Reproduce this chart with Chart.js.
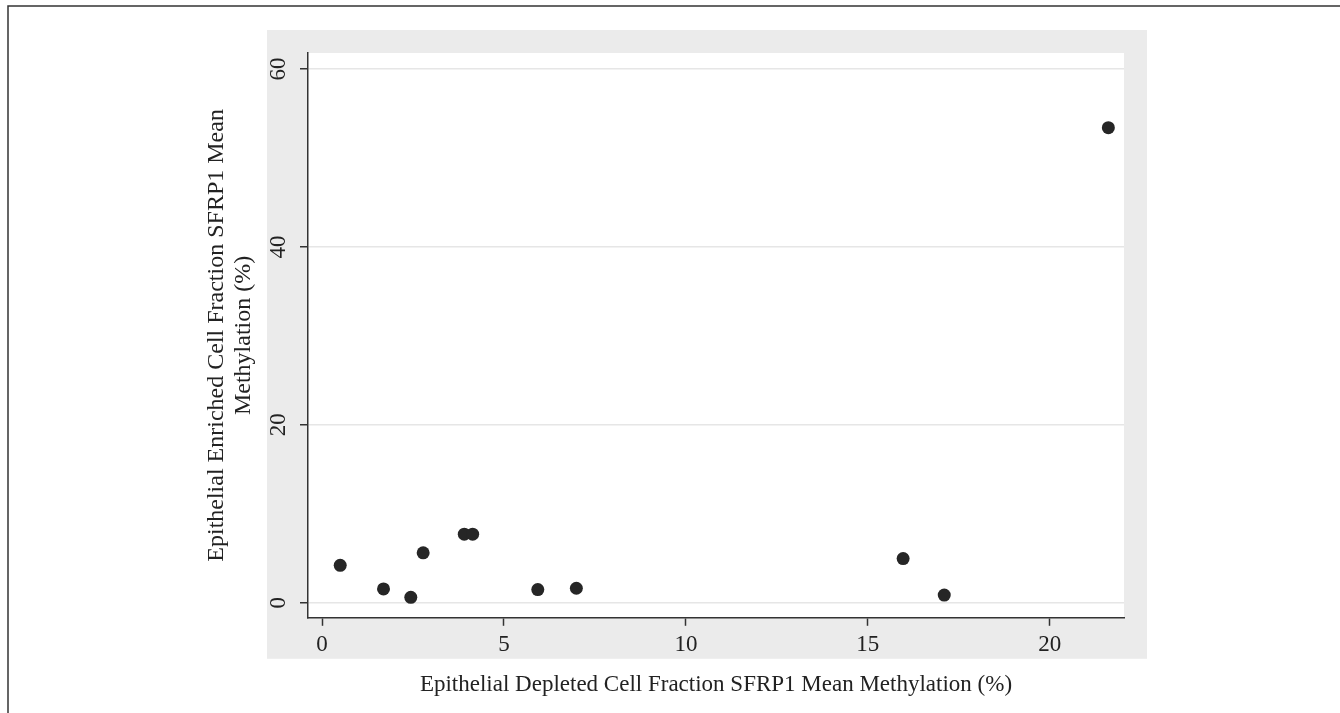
<!DOCTYPE html>
<html>
<head>
<meta charset="utf-8">
<script src="https://cdn.jsdelivr.net/npm/chart.js@4.4.1/dist/chart.umd.min.js"></script>
<style>
  html, body { margin: 0; padding: 0; background: #fff; }
  #wrap { width: 1340px; height: 713px; }
</style>
</head>
<body>
<div id="wrap"><canvas id="scatterChart" width="1340" height="713"></canvas></div>
<script>
// data
var depletedVals = [0.50, 1.69, 2.44, 2.78, 3.91, 4.14, 5.93, 6.99, 15.97, 17.10, 21.61];
var enrichedVals = [4.2, 1.55, 0.6, 5.6, 7.7, 7.7, 1.47, 1.62, 4.96, 0.86, 53.4];
var xTicks = [0, 5, 10, 15, 20];
var yTicks = [0, 20, 40, 60];
var xTitle = 'Epithelial Depleted Cell Fraction SFRP1 Mean Methylation (%)';
var yTitle = ['Epithelial Enriched Cell Fraction SFRP1 Mean', 'Methylation (%)'];

var serif = '"Liberation Serif", "Times New Roman", serif';
var ink = '#222222';

var points = depletedVals.map(function(x, i){ return {x: x, y: enrichedVals[i]}; });

// grey panel + outer frame behind the plot
var backdrop = {
    id: 'backdrop',
    beforeDraw: function(chart){
        var ctx = chart.ctx, a = chart.chartArea;
        ctx.save();
        ctx.fillStyle = '#ffffff';
        ctx.fillRect(0, 0, chart.width, chart.height);
        ctx.fillStyle = '#ebebeb';
        ctx.fillRect(a.left - 41, a.top - 23, (a.right + 23) - (a.left - 41), (a.bottom + 41) - (a.top - 23));
        ctx.fillStyle = '#ffffff';
        ctx.fillRect(a.left, a.top, a.right - a.left, a.bottom - a.top);
        ctx.strokeStyle = '#333333';
        ctx.lineWidth = 1.5;
        ctx.beginPath();
        ctx.moveTo(8, chart.height);
        ctx.lineTo(8, 6);
        ctx.lineTo(chart.width, 6);
        ctx.stroke();
        ctx.restore();
    }
};

// y tick labels are rotated in the original, chart.js can't rotate vertical axis labels
var yTickLabels = {
    id: 'yTickLabels',
    afterDraw: function(chart){
        var ctx = chart.ctx, ys = chart.scales.y;
        ctx.save();
        ctx.fillStyle = ink;
        ctx.font = '23px ' + serif;
        ctx.textAlign = 'center';
        ctx.textBaseline = 'middle';
        yTicks.forEach(function(v){
            var py = ys.getPixelForValue(v);
            ctx.save();
            ctx.translate(ys.right - 29, py);
            ctx.rotate(-Math.PI / 2);
            ctx.fillText(String(v), 0, 0);
            ctx.restore();
        });
        ctx.restore();
    }
};

var ctx = document.getElementById('scatterChart').getContext('2d');
var scatterChart = new Chart(ctx, {
    type: 'scatter',
    data: {
        datasets: [{
            label: 'SFRP1',
            data: points,
            backgroundColor: '#262626',
            borderColor: '#262626',
            borderWidth: 0,
            pointRadius: 6.5,
            pointHoverRadius: 6.5
        }]
    },
    options: {
        responsive: false,
        animation: false,
        events: [],
        layout: { padding: { left: 200, right: 216, top: 53, bottom: 0 } },
        plugins: { legend: { display: false }, tooltip: { enabled: false } },
        scales: {
            x: {
                type: 'linear',
                min: -0.385,
                max: 22.04,
                afterBuildTicks: function(s){ s.ticks = xTicks.map(function(v){ return {value: v}; }); },
                grid: { display: true, drawOnChartArea: false, drawTicks: true, tickLength: 8, tickColor: '#333333', tickWidth: 1.5 },
                border: { display: true, color: '#333333', width: 1.5 },
                ticks: { color: ink, padding: 5, maxRotation: 0, font: { family: serif, size: 23, lineHeight: 1.2 } },
                title: { display: true, text: xTitle, color: ink, padding: { top: 8, bottom: 14 }, font: { family: serif, size: 23, lineHeight: 1.2 } }
            },
            y: {
                type: 'linear',
                min: -1.7,
                max: 61.8,
                afterBuildTicks: function(s){ s.ticks = yTicks.map(function(v){ return {value: v}; }); },
                grid: { display: true, drawOnChartArea: true, color: '#e6e6e6', lineWidth: 1.5, drawTicks: true, tickLength: 8, tickColor: '#333333', tickWidth: 1.5 },
                border: { display: true, color: '#333333', width: 1.5 },
                ticks: { display: false },
                title: { display: true, text: yTitle, color: ink, padding: { top: 3.5, bottom: 42.5 }, font: { family: serif, size: 24, lineHeight: 1.125 } }
            }
        }
    },
    plugins: [backdrop, yTickLabels]
});
</script>
</body>
</html>
